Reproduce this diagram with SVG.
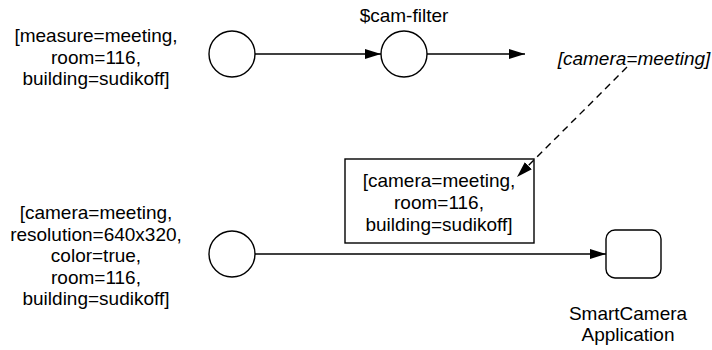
<svg xmlns="http://www.w3.org/2000/svg" width="712" height="350" viewBox="0 0 712 350">
<defs>
<style>
text{font-family:"Liberation Sans",Arial,sans-serif;font-size:19px;fill:#000;text-anchor:middle}
.it{font-style:italic}
.shape{fill:#fff;stroke:#000;stroke-width:1.4}
.edge{fill:none;stroke:#000;stroke-width:1.4}
.dash{stroke-dasharray:7,5}
</style>
<marker id="arr" viewBox="0 0 16 10" refX="16" refY="5" markerWidth="16" markerHeight="10" markerUnits="userSpaceOnUse" orient="auto">
<path d="M0,0 L16,5 L0,10 Z" fill="#000"/>
</marker>
</defs>
<rect width="712" height="350" fill="#fff"/>
<g id="label-measure">
<text x="96" y="42">[measure=meeting,</text>
<text x="96" y="63.5">room=116,</text>
<text x="96" y="85">building=sudikoff]</text>
</g>
<g id="source-top"><circle class="shape" cx="232" cy="54" r="23"/></g>
<g id="cam-filter">
<circle class="shape" cx="404" cy="54" r="23"/>
<text x="404" y="22">$cam-filter</text>
</g>
<g id="label-camera-meeting"><text class="it" x="634" y="65">[camera=meeting]</text></g>
<g id="box-attrs">
<rect class="shape" x="345" y="159" width="189" height="84"/>
<text x="439" y="187">[camera=meeting,</text>
<text x="439" y="209">room=116,</text>
<text x="439" y="231">building=sudikoff]</text>
</g>
<g id="label-camera">
<text x="96" y="219">[camera=meeting,</text>
<text x="96" y="240.5">resolution=640x320,</text>
<text x="96" y="262">color=true,</text>
<text x="96" y="283.5">room=116,</text>
<text x="96" y="305">building=sudikoff]</text>
</g>
<g id="source-bottom"><circle class="shape" cx="232" cy="254" r="23"/></g>
<g id="smartcamera">
<rect class="shape" x="606" y="230" width="55" height="48" rx="9" ry="9"/>
<text x="628" y="320">SmartCamera</text>
<text x="628" y="341">Application</text>
</g>
<g id="connectors">
<line class="edge" x1="255" y1="54" x2="381" y2="54" marker-end="url(#arr)"/>
<line class="edge" x1="427" y1="54" x2="525" y2="54" marker-end="url(#arr)"/>
<line class="edge dash" x1="627" y1="67" x2="517" y2="177" marker-end="url(#arr)"/>
<line class="edge" x1="255" y1="254" x2="606" y2="254" marker-end="url(#arr)"/>
</g>
</svg>
